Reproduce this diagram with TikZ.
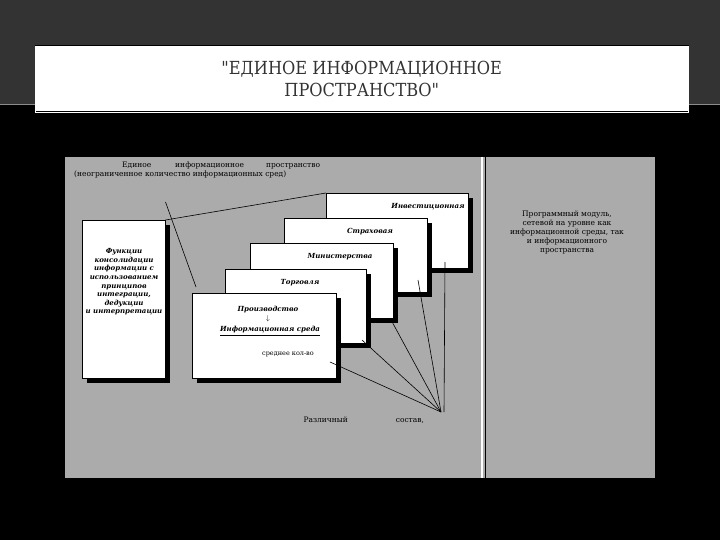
\documentclass[tikz,border=0pt]{standalone}
\usepackage{fontspec}
\setmainfont{DejaVu Serif}
\newfontfamily\ttl{DejaVu Serif Condensed}
\begin{document}
\begin{tikzpicture}[x=1pt,y=-1pt,
  card/.style={draw=black,fill=white,line width=0.5pt},
  shad/.style={fill=black},
  small/.style={font=\fontsize{7.5}{9}\selectfont},
  ital/.style={font=\fontsize{7}{8.6}\selectfont\itshape\bfseries},
  link/.style={draw=black,line width=0.6pt}]
\useasboundingbox (0,0) rectangle (720,540);
\fill[black!80] (0,0) rectangle (720,105);
\fill[black] (0,105) rectangle (720,540);
\draw[black!45,line width=1pt] (0,105)--(720,105);
\node[draw=black,double,fill=white,minimum width=653pt,minimum height=66pt,anchor=north west,
  align=center,font=\ttl\fontsize{18}{22}\selectfont,text=black!80] (title) at (35,46)
  {\char34 ЕДИНОЕ ИНФОРМАЦИОННОЕ\\ПРОСТРАНСТВО\char34};
\fill[black!33] (65,157) rectangle (655,478);
\draw[white,line width=1.5pt] (482,157)--(482,478);
\draw[black,line width=1pt] (485,157)--(485,478);
\node[small,align=left,anchor=north west,inner sep=0pt] (top) at (74,162)
  {\hspace*{48pt}Единое\hspace{24pt}информационное\hspace{22pt}пространство\\(неограниченное количество информационных сред)};
\node[small,align=center] (right) at (567,232)
  {Программный модуль,\\сетевой на уровне как\\информационной среды, так\\и информационного\\пространства};
% left box
\fill[shad] (87,225) rectangle (170,383);
\node[card,minimum width=83pt,minimum height=158pt,anchor=north west,inner sep=0pt] (lb) at (82,220) {};
\node[ital,align=center] (lbt) at (124,282) {Функции\\консолидации\\информации с\\использованием\\принципов\\интеграции,\\дедукции\\и интерпретации};
% cards
\foreach \x/\y/\w/\h/\n in {326/193/142/75/c5,284/218/143/74/c4,250/243/143/75/c3,225/269/141/74/c2,192/293/144/85/c1}{
  \fill[shad] (\x+5,\y+5) rectangle (\x+\w+5,\y+\h+5);
  \node[card,minimum width=\w pt,minimum height=\h pt,anchor=north west,inner sep=0pt] (\n) at (\x,\y) {};
}
\node[ital] (t5) at (428,207) {Инвестиционная};
\node[ital] (t4) at (370,232) {Страховая};
\node[ital] (t3) at (340,257) {Министерства};
\node[ital] (t2) at (300,283) {Торговля};
\node[ital,align=center] (t1) at (268,314) {Производство\\$\downarrow$};
\node[ital] (t1b) at (270,331) {\underline{Информационная среда}};
\node[font=\fontsize{6.5}{7}\selectfont] (t1c) at (288,354) {среднее кол-во};
\coordinate (p) at (441,412);
\coordinate (a5) at (445,262);
\coordinate (a4) at (418,280);
\coordinate (a3) at (390,318);
\coordinate (a2) at (362,340);
\coordinate (a1) at (330,362);
\draw[link] (lb.north east) -- (c5.north west);
\draw[link] ([yshift=18pt]lb.north east) -- ([shift={(4pt,6pt)}]c1.north west);
\foreach \a in {a1,a2,a3,a4}{\draw[link] (\a) -- (p);}
\draw[link] (a5) -- (444,412);
\node[small,anchor=west] (bot) at (300,420) {Различный\hspace{48pt}состав,};
\end{tikzpicture}
\end{document}
